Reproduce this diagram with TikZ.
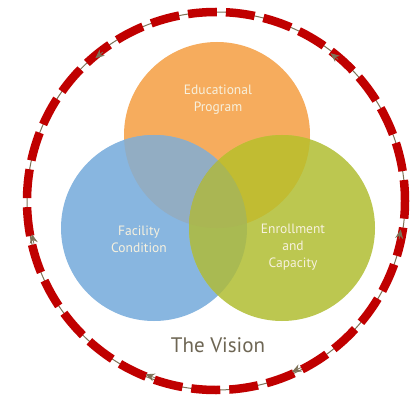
\documentclass[tikz,border=0pt]{standalone}
\usepackage{fontspec}
\setmainfont{PT Sans}
\usetikzlibrary{arrows.meta}
\definecolor{orangeC}{HTML}{F6AC5D}
\definecolor{blueC}{HTML}{88B6E0}
\definecolor{greenC}{HTML}{BCC750}
\definecolor{obC}{HTML}{92ADC3}
\definecolor{ogC}{HTML}{C1BC32}
\definecolor{bgC}{HTML}{A9BA52}
\definecolor{obgC}{HTML}{AAB653}
\definecolor{ringred}{HTML}{C00000}
\definecolor{ringline}{HTML}{7D7258}
\definecolor{labeltext}{HTML}{F7F1DE}
\definecolor{titletext}{HTML}{6E6654}
\tikzset{
  bubble/.style={circle, minimum size=186pt, inner sep=0pt},
  label/.style={text=labeltext, font=\fontsize{13.5}{17}\selectfont, align=center},
  tip/.style={-{Stealth[length=9pt,width=8pt,inset=3pt]}, ringline, line width=0.8pt},
}
\begin{document}
\begin{tikzpicture}[x=1pt,y=1pt]
\useasboundingbox[fill=white] (0,0) rectangle (417,394);
% outer ring
\coordinate (ctr) at (216,193);
\draw[ringline, line width=1pt] (ctr) circle[radius=189];
\draw[ringred, line width=8.5pt, dash pattern=on 29pt off 9pt, dash phase=8pt] (ctr) circle[radius=189];
% arrowheads on the ring
\foreach \ang/\dir [count=\i] in {130.2/1, 190.2/-1, 247.9/-1, 294/-1, 52.2/1, 351.2/1}{
  \coordinate (s\i) at ([shift={({\ang-\dir*3}:187)}]ctr);
  \coordinate (e\i) at ([shift={(\ang:187)}]ctr);
  \draw[tip] (s\i) -- (e\i);
}
% circles
\node[bubble, fill=orangeC] (edu) at (217,259) {};
\node[bubble, fill=blueC] (fac) at (154,166) {};
\node[bubble, fill=greenC] (enr) at (282,166) {};
\begin{scope}
  \clip (edu.center) circle[radius=93];
  \fill[obC] (fac.center) circle[radius=93];
  \fill[ogC] (enr.center) circle[radius=93];
\end{scope}
\begin{scope}
  \clip (fac.center) circle[radius=93];
  \fill[bgC] (enr.center) circle[radius=93];
  \clip (edu.center) circle[radius=93];
  \fill[obgC] (enr.center) circle[radius=93];
\end{scope}
% labels
\node[label] (edutext) at (218,294) {Educational\\Program};
\node[label] (factext) at (139,155) {Facility\\Condition};
\node[label] (enrtext) at (293,147) {Enrollment\\and\\Capacity};
\node[text=titletext, font=\fontsize{21}{24}\selectfont] (title) at (218,49) {The Vision};
\end{tikzpicture}
\end{document}
